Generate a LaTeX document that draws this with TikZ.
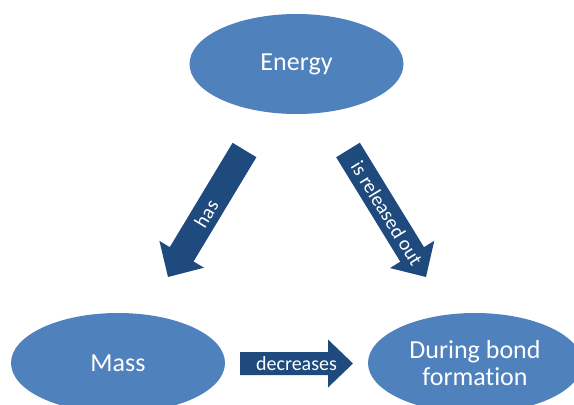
\documentclass[tikz,border=0pt]{standalone}
\usepackage{fontspec}
\setmainfont{Carlito}[Ligatures=NoCommon]
\usetikzlibrary{shapes.geometric,calc}
\definecolor{ellblue}{HTML}{4F81BD}
\definecolor{arrblue}{HTML}{1F4A7E}
\tikzset{
  oval/.style={ellipse, fill=ellblue, text=white, minimum width=214pt, minimum height=100pt, inner sep=0pt, align=center, font=\fontsize{26}{27}\selectfont},
  arrowfill/.style={fill=arrblue},
  arrowlabel/.style={text=white, font=\fontsize{20}{22}\selectfont, inner sep=0pt}
}
\newcommand\FatArrow[6]{%
  \coordinate (#1-#2-n) at ($(#2)!#5!(#1)$);
  \fill[arrowfill] ($(#1)!#3!90:(#2)$) -- ($(#1-#2-n)!#3!90:(#2)$) -- ($(#1-#2-n)!#4!90:(#2)$) -- (#2)
     -- ($(#1-#2-n)!#4!-90:(#2)$) -- ($(#1-#2-n)!#3!-90:(#2)$) -- ($(#1)!#3!-90:(#2)$) -- cycle;
  \path (#1) -- (#2) node[midway, sloped, arrowlabel] {#6};
}
\begin{document}
\begin{tikzpicture}[x=1pt,y=-1pt]
\useasboundingbox (0,0) rectangle (574,405);
\clip (0,0) rectangle (574,405);
\node[oval] (energy) at (296.5,64) {Energy};
\node[oval] (mass) at (118,363) {Mass};
\node[oval] (bond) at (475,363) {During bond\\formation};
\coordinate (hasS) at (244.5,150);
\coordinate (hasT) at (168,277);
\coordinate (relS) at (348,150);
\coordinate (relT) at (426,277);
\coordinate (decS) at (240,363.5);
\coordinate (decT) at (353,363.5);
\FatArrow{hasS}{hasT}{13.9pt}{26pt}{26.5pt}{has}
\FatArrow{relS}{relT}{13.9pt}{26pt}{26.5pt}{is released out}
\FatArrow{decS}{decT}{11.5pt}{24pt}{25pt}{decreases}
\end{tikzpicture}
\end{document}
